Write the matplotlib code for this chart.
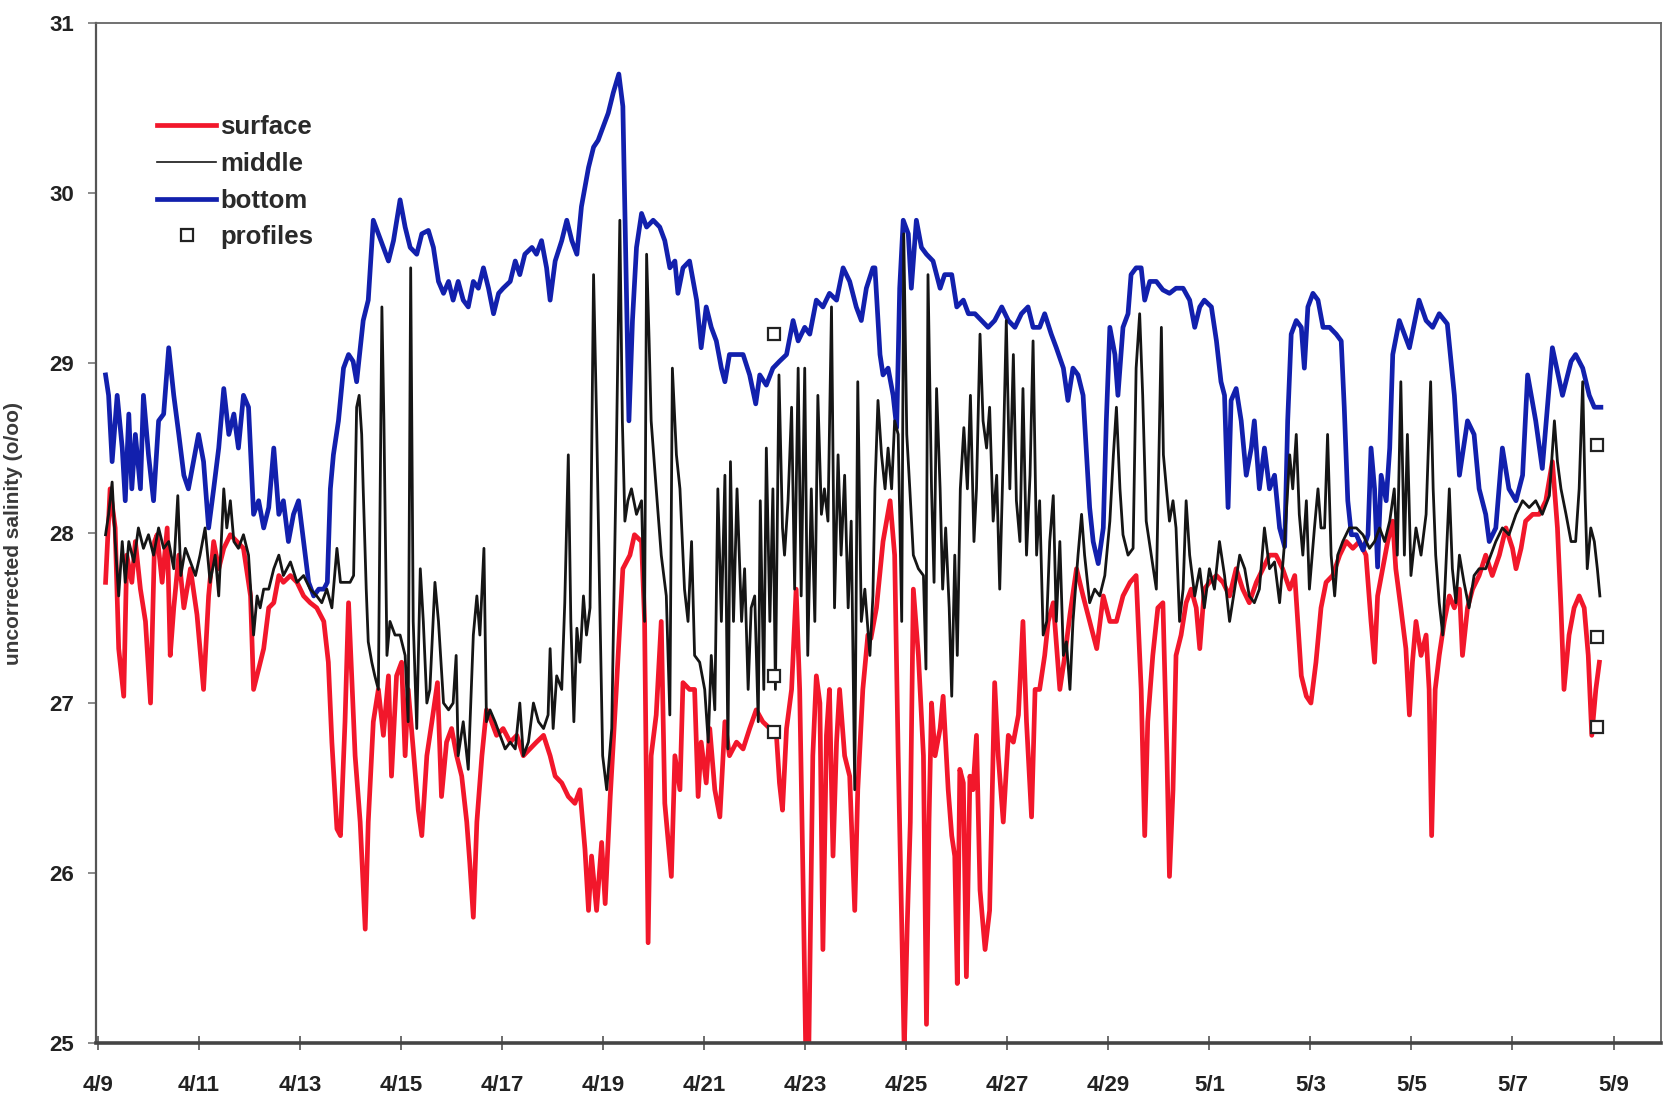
import numpy as np
import matplotlib
matplotlib.use("Agg")
import matplotlib.pyplot as plt
from matplotlib.lines import Line2D

# ---- data: (day since 4/9 00:00, salinity) ----
surface = [
    (0.15, 27.71), (0.24, 28.26), (0.34, 28.03), (0.41, 27.32), (0.51, 27.04), (0.57, 27.87),
    (0.67, 27.71), (0.74, 27.95), (0.84, 27.67), (0.94, 27.48), (1.04, 27.00), (1.12, 27.95),
    (1.17, 27.99), (1.27, 27.71), (1.37, 28.03), (1.43, 27.28), (1.50, 27.56), (1.60, 27.87),
    (1.70, 27.56), (1.83, 27.79), (1.96, 27.52), (2.09, 27.08), (2.19, 27.63), (2.29, 27.95),
    (2.39, 27.79), (2.49, 27.91), (2.62, 27.99), (2.75, 27.95), (2.88, 27.91), (3.02, 27.63),
    (3.08, 27.08), (3.18, 27.20), (3.28, 27.32), (3.38, 27.56), (3.48, 27.59), (3.58, 27.75),
    (3.67, 27.71), (3.81, 27.75), (3.94, 27.71), (4.07, 27.63), (4.20, 27.59), (4.33, 27.56),
    (4.47, 27.48), (4.56, 27.24), (4.63, 26.77), (4.73, 26.26), (4.80, 26.22), (4.89, 26.89),
    (4.96, 27.59), (5.09, 26.69), (5.19, 26.30), (5.29, 25.67), (5.35, 26.30), (5.45, 26.89),
    (5.55, 27.08), (5.65, 26.81), (5.75, 27.16), (5.81, 26.57), (5.91, 27.16), (6.01, 27.24),
    (6.08, 26.69), (6.14, 27.08), (6.24, 26.73), (6.34, 26.37), (6.41, 26.22), (6.51, 26.69),
    (6.61, 26.89), (6.72, 27.12), (6.80, 26.45), (6.90, 26.77), (7.00, 26.85), (7.10, 26.69),
    (7.20, 26.57), (7.30, 26.30), (7.36, 26.06), (7.43, 25.74), (7.50, 26.30), (7.60, 26.69),
    (7.69, 26.96), (7.79, 26.89), (7.89, 26.81), (8.02, 26.85), (8.16, 26.77), (8.29, 26.81),
    (8.42, 26.69), (8.55, 26.73), (8.68, 26.77), (8.82, 26.81), (8.95, 26.69), (9.05, 26.57),
    (9.18, 26.53), (9.31, 26.45), (9.44, 26.41), (9.54, 26.49), (9.64, 26.14), (9.71, 25.78),
    (9.77, 26.10), (9.87, 25.78), (9.97, 26.18), (10.04, 25.82), (10.14, 26.45), (10.26, 27.08),
    (10.39, 27.79), (10.53, 27.87), (10.62, 27.99), (10.76, 27.95), (10.82, 27.48), (10.89, 25.59),
    (10.95, 26.69), (11.05, 26.93), (11.15, 27.48), (11.22, 26.41), (11.35, 25.98), (11.42, 26.69),
    (11.52, 26.49), (11.58, 27.12), (11.71, 27.08), (11.81, 27.08), (11.88, 26.45), (11.94, 26.77),
    (12.04, 26.53), (12.11, 26.85), (12.21, 26.49), (12.31, 26.33), (12.41, 26.89), (12.50, 26.69),
    (12.64, 26.77), (12.77, 26.73), (12.90, 26.85), (13.03, 26.96), (13.16, 26.89), (13.30, 26.85),
    (13.43, 26.81), (13.49, 26.53), (13.55, 26.37), (13.63, 26.85), (13.73, 27.08), (13.82, 27.67),
    (13.89, 27.08), (13.96, 25.90), (14.01, 24.95), (14.07, 24.95), (14.15, 26.69), (14.22, 27.16),
    (14.29, 27.00), (14.35, 25.55), (14.42, 26.81), (14.48, 27.08), (14.55, 26.10), (14.62, 26.77),
    (14.68, 27.08), (14.78, 26.69), (14.88, 26.57), (14.98, 25.78), (15.04, 26.49), (15.14, 27.08),
    (15.24, 27.40), (15.30, 27.38), (15.41, 27.56), (15.54, 27.95), (15.68, 28.19), (15.77, 27.87),
    (15.84, 26.69), (15.91, 25.70), (15.96, 24.95), (16.02, 25.70), (16.08, 26.30), (16.14, 27.67),
    (16.24, 27.28), (16.34, 26.69), (16.40, 25.11), (16.45, 26.30), (16.50, 27.00), (16.57, 26.69),
    (16.67, 26.85), (16.73, 27.04), (16.83, 26.49), (16.90, 26.22), (16.96, 26.10), (17.01, 25.35),
    (17.06, 26.61), (17.13, 26.53), (17.19, 25.39), (17.26, 26.57), (17.32, 26.49), (17.39, 26.81),
    (17.46, 25.90), (17.56, 25.55), (17.65, 25.78), (17.75, 27.12), (17.82, 26.69), (17.92, 26.30),
    (18.02, 26.81), (18.12, 26.77), (18.22, 26.93), (18.31, 27.48), (18.38, 26.89), (18.48, 26.33),
    (18.55, 27.08), (18.64, 27.08), (18.74, 27.28), (18.81, 27.48), (18.91, 27.59), (19.04, 27.08),
    (19.14, 27.28), (19.24, 27.52), (19.37, 27.79), (19.50, 27.63), (19.63, 27.48), (19.77, 27.32),
    (19.90, 27.63), (20.03, 27.48), (20.16, 27.48), (20.29, 27.63), (20.43, 27.71), (20.55, 27.75),
    (20.65, 27.08), (20.72, 26.22), (20.78, 26.89), (20.88, 27.28), (20.98, 27.56), (21.08, 27.59),
    (21.16, 26.69), (21.21, 25.98), (21.28, 26.49), (21.34, 27.28), (21.44, 27.40), (21.54, 27.59),
    (21.64, 27.67), (21.74, 27.56), (21.81, 27.32), (21.90, 27.67), (22.00, 27.71), (22.14, 27.75),
    (22.27, 27.71), (22.40, 27.63), (22.53, 27.79), (22.66, 27.67), (22.79, 27.59), (22.93, 27.71),
    (23.06, 27.79), (23.19, 27.87), (23.32, 27.87), (23.45, 27.79), (23.59, 27.67), (23.69, 27.75),
    (23.75, 27.48), (23.82, 27.16), (23.92, 27.04), (24.01, 27.00), (24.11, 27.24), (24.21, 27.56),
    (24.31, 27.71), (24.44, 27.75), (24.58, 27.87), (24.71, 27.95), (24.84, 27.91), (24.97, 27.95),
    (25.10, 27.87), (25.20, 27.48), (25.27, 27.24), (25.33, 27.63), (25.43, 27.79), (25.53, 27.95),
    (25.63, 28.07), (25.69, 27.79), (25.79, 27.56), (25.89, 27.32), (25.96, 26.93), (26.02, 27.24),
    (26.09, 27.48), (26.19, 27.28), (26.29, 27.40), (26.35, 27.08), (26.40, 26.22), (26.47, 27.08),
    (26.55, 27.28), (26.65, 27.48), (26.75, 27.63), (26.85, 27.56), (26.95, 27.67), (27.01, 27.28),
    (27.11, 27.56), (27.21, 27.67), (27.34, 27.75), (27.47, 27.87), (27.60, 27.75), (27.74, 27.87),
    (27.87, 28.03), (28.00, 27.91), (28.07, 27.79), (28.17, 27.91), (28.26, 28.07), (28.40, 28.11),
    (28.53, 28.11), (28.66, 28.19), (28.79, 28.42), (28.89, 28.03), (28.96, 27.56), (29.02, 27.08),
    (29.12, 27.40), (29.22, 27.56), (29.32, 27.63), (29.42, 27.56), (29.50, 27.28), (29.57, 26.81),
    (29.65, 27.08), (29.72, 27.24),
]

middle = [
    (0.15, 27.99), (0.21, 28.11), (0.28, 28.30), (0.34, 27.95), (0.41, 27.63), (0.48, 27.95),
    (0.54, 27.71), (0.61, 27.95), (0.71, 27.83), (0.80, 28.03), (0.90, 27.91), (1.00, 27.99),
    (1.10, 27.87), (1.20, 28.03), (1.30, 27.91), (1.40, 27.95), (1.50, 27.79), (1.58, 28.22),
    (1.64, 27.75), (1.73, 27.91), (1.83, 27.83), (1.93, 27.75), (2.02, 27.87), (2.12, 28.03),
    (2.22, 27.71), (2.32, 27.87), (2.39, 27.63), (2.49, 28.26), (2.55, 28.03), (2.62, 28.19),
    (2.69, 27.95), (2.78, 27.91), (2.88, 27.99), (2.98, 27.87), (3.08, 27.40), (3.15, 27.63),
    (3.21, 27.56), (3.28, 27.67), (3.38, 27.67), (3.48, 27.79), (3.58, 27.87), (3.67, 27.75),
    (3.81, 27.83), (3.94, 27.71), (4.07, 27.75), (4.20, 27.67), (4.33, 27.63), (4.43, 27.59),
    (4.53, 27.67), (4.63, 27.56), (4.73, 27.91), (4.80, 27.71), (4.89, 27.71), (4.99, 27.71),
    (5.06, 27.75), (5.12, 28.74), (5.17, 28.81), (5.22, 28.58), (5.25, 28.26), (5.31, 27.67),
    (5.35, 27.36), (5.42, 27.24), (5.48, 27.16), (5.55, 27.08), (5.62, 29.33), (5.66, 28.66),
    (5.72, 27.28), (5.78, 27.48), (5.88, 27.40), (5.98, 27.40), (6.08, 27.28), (6.14, 26.89),
    (6.19, 29.56), (6.24, 27.48), (6.31, 26.85), (6.38, 27.79), (6.44, 27.48), (6.51, 27.00),
    (6.57, 27.08), (6.67, 27.71), (6.74, 27.48), (6.84, 27.00), (6.94, 26.96), (7.03, 27.00),
    (7.09, 27.28), (7.13, 26.69), (7.23, 26.89), (7.33, 26.61), (7.43, 27.40), (7.50, 27.63),
    (7.56, 27.40), (7.64, 27.91), (7.69, 26.89), (7.76, 26.96), (7.86, 26.89), (7.96, 26.81),
    (8.06, 26.73), (8.16, 26.77), (8.26, 26.73), (8.35, 27.00), (8.42, 26.69), (8.52, 26.77),
    (8.62, 27.00), (8.72, 26.89), (8.82, 26.85), (8.91, 26.93), (8.95, 27.32), (9.01, 26.85),
    (9.08, 27.16), (9.18, 27.08), (9.24, 27.59), (9.31, 28.46), (9.36, 27.48), (9.42, 26.89),
    (9.48, 27.44), (9.54, 27.24), (9.61, 27.63), (9.67, 27.40), (9.74, 27.56), (9.81, 29.52),
    (9.87, 28.66), (9.94, 27.48), (9.99, 26.69), (10.07, 26.49), (10.17, 26.85), (10.25, 28.26),
    (10.33, 29.84), (10.38, 28.66), (10.43, 28.07), (10.49, 28.19), (10.56, 28.26), (10.66, 28.11),
    (10.76, 28.19), (10.82, 27.48), (10.86, 29.64), (10.91, 29.13), (10.95, 28.66), (11.05, 28.26),
    (11.15, 27.87), (11.25, 27.63), (11.32, 26.93), (11.37, 28.97), (11.45, 28.46), (11.52, 28.26),
    (11.61, 27.67), (11.68, 27.48), (11.75, 27.95), (11.81, 27.28), (11.91, 27.24), (12.01, 27.08),
    (12.08, 26.77), (12.14, 27.28), (12.21, 26.96), (12.27, 28.26), (12.34, 27.48), (12.41, 28.34),
    (12.47, 26.73), (12.52, 28.42), (12.58, 27.48), (12.65, 28.26), (12.74, 27.48), (12.80, 27.79),
    (12.87, 27.08), (12.93, 27.56), (13.00, 27.63), (13.07, 26.89), (13.11, 28.19), (13.18, 27.08),
    (13.23, 28.50), (13.30, 27.48), (13.36, 28.26), (13.41, 27.08), (13.48, 28.93), (13.55, 28.03),
    (13.59, 27.87), (13.66, 28.19), (13.73, 28.74), (13.79, 27.67), (13.86, 28.97), (13.92, 27.63),
    (13.99, 28.97), (14.05, 27.28), (14.12, 28.26), (14.19, 27.48), (14.25, 28.81), (14.32, 28.11),
    (14.38, 28.26), (14.45, 28.07), (14.52, 29.33), (14.58, 27.56), (14.65, 28.46), (14.71, 27.87),
    (14.78, 28.34), (14.85, 27.56), (14.91, 28.07), (14.98, 26.49), (15.04, 28.89), (15.11, 27.48),
    (15.18, 27.67), (15.28, 27.28), (15.34, 27.63), (15.38, 28.26), (15.44, 28.78), (15.51, 28.46),
    (15.58, 28.26), (15.64, 28.50), (15.71, 28.26), (15.77, 28.66), (15.84, 28.58), (15.91, 27.48),
    (15.95, 29.76), (16.01, 28.58), (16.07, 28.26), (16.14, 27.87), (16.24, 27.79), (16.34, 27.75),
    (16.39, 27.20), (16.43, 29.52), (16.50, 28.26), (16.55, 27.71), (16.60, 28.85), (16.67, 28.26),
    (16.72, 27.67), (16.78, 28.03), (16.85, 27.56), (16.90, 27.04), (16.96, 27.87), (17.01, 27.28),
    (17.07, 28.26), (17.14, 28.62), (17.21, 28.26), (17.27, 28.81), (17.34, 27.95), (17.39, 28.26),
    (17.46, 29.17), (17.52, 28.66), (17.59, 28.50), (17.65, 28.74), (17.72, 28.07), (17.79, 28.34),
    (17.85, 27.67), (17.92, 28.46), (17.98, 29.25), (18.05, 28.26), (18.12, 29.05), (18.18, 28.19),
    (18.25, 27.95), (18.31, 28.85), (18.38, 27.87), (18.45, 28.34), (18.51, 29.13), (18.58, 27.87),
    (18.64, 28.19), (18.71, 27.40), (18.78, 27.48), (18.84, 27.95), (18.91, 28.22), (18.97, 27.48),
    (19.04, 27.95), (19.11, 27.28), (19.17, 27.36), (19.24, 27.08), (19.30, 27.48), (19.40, 27.87),
    (19.47, 28.11), (19.53, 27.87), (19.63, 27.59), (19.73, 27.67), (19.83, 27.63), (19.93, 27.75),
    (20.03, 28.07), (20.10, 28.46), (20.16, 28.74), (20.23, 28.26), (20.29, 27.99), (20.39, 27.87),
    (20.49, 27.91), (20.55, 28.97), (20.62, 29.29), (20.68, 28.81), (20.75, 28.07), (20.85, 27.87),
    (20.95, 27.67), (21.05, 29.21), (21.09, 28.46), (21.15, 28.26), (21.21, 28.07), (21.28, 28.19),
    (21.34, 28.03), (21.41, 27.48), (21.48, 27.67), (21.54, 28.19), (21.61, 27.87), (21.71, 27.63),
    (21.81, 27.79), (21.90, 27.56), (22.00, 27.79), (22.10, 27.67), (22.20, 27.95), (22.30, 27.75),
    (22.40, 27.48), (22.50, 27.67), (22.60, 27.87), (22.70, 27.79), (22.79, 27.63), (22.89, 27.59),
    (22.99, 27.67), (23.09, 28.03), (23.19, 27.79), (23.29, 27.83), (23.39, 27.59), (23.49, 27.95),
    (23.59, 28.46), (23.65, 28.26), (23.72, 28.58), (23.78, 28.11), (23.85, 27.87), (23.92, 28.19),
    (23.98, 27.67), (24.08, 28.03), (24.15, 28.26), (24.21, 28.03), (24.28, 28.03), (24.34, 28.58),
    (24.41, 27.87), (24.48, 27.63), (24.54, 27.87), (24.64, 27.95), (24.77, 28.03), (24.91, 28.03),
    (25.04, 27.99), (25.17, 27.91), (25.27, 27.95), (25.37, 28.03), (25.47, 27.95), (25.57, 28.07),
    (25.66, 28.26), (25.72, 27.87), (25.79, 28.89), (25.86, 27.87), (25.92, 28.58), (25.99, 27.75),
    (26.09, 28.03), (26.19, 27.87), (26.29, 28.11), (26.38, 28.89), (26.43, 28.26), (26.48, 27.87),
    (26.55, 27.59), (26.62, 27.40), (26.68, 27.79), (26.75, 28.26), (26.81, 27.79), (26.88, 27.59),
    (26.95, 27.87), (27.04, 27.71), (27.14, 27.56), (27.24, 27.75), (27.34, 27.79), (27.47, 27.79),
    (27.57, 27.87), (27.67, 27.95), (27.80, 28.03), (27.93, 27.99), (28.07, 28.11), (28.20, 28.19),
    (28.33, 28.15), (28.46, 28.19), (28.59, 28.11), (28.73, 28.22), (28.83, 28.66), (28.89, 28.42),
    (28.96, 28.26), (29.06, 28.11), (29.16, 27.95), (29.25, 27.95), (29.32, 28.26), (29.39, 28.89),
    (29.44, 28.19), (29.48, 27.79), (29.55, 28.03), (29.62, 27.95), (29.68, 27.79), (29.73, 27.63),
]

bottom = [
    (0.15, 28.93), (0.21, 28.81), (0.28, 28.42), (0.38, 28.81), (0.48, 28.50), (0.54, 28.19),
    (0.61, 28.70), (0.67, 28.26), (0.74, 28.58), (0.84, 28.26), (0.90, 28.81), (1.00, 28.46),
    (1.10, 28.19), (1.20, 28.66), (1.30, 28.70), (1.40, 29.09), (1.50, 28.81), (1.60, 28.58),
    (1.70, 28.34), (1.79, 28.26), (1.89, 28.42), (1.99, 28.58), (2.09, 28.42), (2.19, 28.03),
    (2.29, 28.26), (2.39, 28.50), (2.49, 28.85), (2.59, 28.58), (2.69, 28.70), (2.78, 28.50),
    (2.88, 28.81), (2.98, 28.74), (3.08, 28.11), (3.18, 28.19), (3.28, 28.03), (3.38, 28.15),
    (3.48, 28.50), (3.58, 28.11), (3.67, 28.19), (3.77, 27.95), (3.87, 28.11), (3.97, 28.19),
    (4.07, 27.95), (4.17, 27.71), (4.27, 27.63), (4.37, 27.67), (4.47, 27.67), (4.54, 27.71),
    (4.60, 28.26), (4.66, 28.46), (4.76, 28.66), (4.86, 28.97), (4.96, 29.05), (5.05, 29.01),
    (5.12, 28.89), (5.25, 29.25), (5.35, 29.37), (5.45, 29.84), (5.55, 29.76), (5.65, 29.68),
    (5.75, 29.60), (5.85, 29.72), (5.98, 29.96), (6.08, 29.80), (6.18, 29.68), (6.31, 29.64),
    (6.41, 29.76), (6.54, 29.78), (6.64, 29.68), (6.74, 29.48), (6.84, 29.41), (6.94, 29.48),
    (7.03, 29.37), (7.13, 29.48), (7.23, 29.37), (7.33, 29.33), (7.43, 29.48), (7.53, 29.44),
    (7.63, 29.56), (7.73, 29.44), (7.83, 29.29), (7.93, 29.41), (8.02, 29.44), (8.16, 29.48),
    (8.26, 29.60), (8.35, 29.52), (8.45, 29.64), (8.59, 29.68), (8.68, 29.64), (8.78, 29.72),
    (8.88, 29.56), (8.95, 29.37), (9.05, 29.60), (9.18, 29.72), (9.28, 29.84), (9.38, 29.72),
    (9.48, 29.64), (9.57, 29.92), (9.71, 30.15), (9.81, 30.27), (9.90, 30.31), (10.00, 30.39),
    (10.10, 30.47), (10.20, 30.59), (10.31, 30.70), (10.39, 30.51), (10.46, 29.44), (10.51, 28.66),
    (10.58, 29.25), (10.66, 29.68), (10.76, 29.88), (10.86, 29.80), (10.99, 29.84), (11.12, 29.80),
    (11.22, 29.72), (11.32, 29.56), (11.42, 29.60), (11.48, 29.41), (11.58, 29.56), (11.71, 29.60),
    (11.85, 29.37), (11.94, 29.09), (12.04, 29.33), (12.14, 29.21), (12.24, 29.13), (12.34, 28.97),
    (12.41, 28.89), (12.50, 29.05), (12.64, 29.05), (12.77, 29.05), (12.90, 28.93), (13.02, 28.76),
    (13.10, 28.93), (13.23, 28.87), (13.36, 28.97), (13.49, 29.01), (13.63, 29.05), (13.76, 29.25),
    (13.86, 29.13), (13.99, 29.21), (14.09, 29.17), (14.22, 29.37), (14.35, 29.33), (14.48, 29.41),
    (14.62, 29.37), (14.75, 29.56), (14.88, 29.48), (15.01, 29.33), (15.11, 29.25), (15.21, 29.44),
    (15.34, 29.56), (15.38, 29.56), (15.48, 29.05), (15.54, 28.93), (15.64, 28.97), (15.74, 28.81),
    (15.81, 28.62), (15.87, 29.44), (15.94, 29.84), (16.04, 29.76), (16.10, 29.44), (16.20, 29.84),
    (16.30, 29.68), (16.40, 29.64), (16.53, 29.60), (16.67, 29.44), (16.76, 29.52), (16.90, 29.52),
    (17.00, 29.33), (17.13, 29.37), (17.23, 29.29), (17.36, 29.29), (17.49, 29.25), (17.62, 29.21),
    (17.75, 29.25), (17.89, 29.33), (18.02, 29.25), (18.15, 29.21), (18.28, 29.29), (18.41, 29.33),
    (18.51, 29.21), (18.64, 29.21), (18.74, 29.29), (18.87, 29.17), (18.97, 29.09), (19.11, 28.97),
    (19.20, 28.78), (19.30, 28.97), (19.40, 28.93), (19.50, 28.81), (19.57, 28.46), (19.63, 28.15),
    (19.70, 27.95), (19.80, 27.82), (19.90, 28.03), (19.96, 28.66), (20.03, 29.21), (20.13, 29.05),
    (20.19, 28.81), (20.29, 29.21), (20.39, 29.29), (20.45, 29.52), (20.55, 29.56), (20.65, 29.56),
    (20.72, 29.37), (20.82, 29.48), (20.95, 29.48), (21.08, 29.43), (21.21, 29.41), (21.34, 29.44),
    (21.48, 29.44), (21.61, 29.37), (21.71, 29.21), (21.81, 29.33), (21.90, 29.37), (22.04, 29.33),
    (22.14, 29.13), (22.23, 28.89), (22.30, 28.81), (22.37, 28.15), (22.43, 28.78), (22.53, 28.85),
    (22.63, 28.66), (22.73, 28.34), (22.83, 28.50), (22.89, 28.66), (22.99, 28.26), (23.09, 28.50),
    (23.19, 28.26), (23.29, 28.34), (23.39, 28.03), (23.49, 27.92), (23.55, 28.66), (23.62, 29.17),
    (23.72, 29.25), (23.82, 29.21), (23.88, 28.97), (23.95, 29.33), (24.05, 29.41), (24.15, 29.37),
    (24.25, 29.21), (24.38, 29.21), (24.51, 29.17), (24.61, 29.13), (24.67, 28.74), (24.74, 28.19),
    (24.81, 27.99), (24.91, 27.99), (25.04, 27.90), (25.14, 27.99), (25.20, 28.50), (25.27, 28.26),
    (25.33, 27.80), (25.40, 28.34), (25.50, 28.19), (25.57, 28.50), (25.63, 29.05), (25.76, 29.25),
    (25.96, 29.09), (26.15, 29.37), (26.29, 29.25), (26.42, 29.21), (26.55, 29.29), (26.71, 29.23),
    (26.85, 28.81), (26.95, 28.34), (27.11, 28.66), (27.24, 28.58), (27.34, 28.26), (27.47, 28.11),
    (27.54, 27.95), (27.67, 28.03), (27.80, 28.50), (27.93, 28.26), (28.07, 28.19), (28.20, 28.34),
    (28.30, 28.93), (28.46, 28.66), (28.59, 28.38), (28.79, 29.09), (28.99, 28.81), (29.16, 29.01),
    (29.25, 29.05), (29.39, 28.97), (29.52, 28.81), (29.62, 28.74), (29.75, 28.74),
]

profile_days = [13.38, 13.38, 13.38, 29.67, 29.67, 29.67]
profile_sal = [29.17, 27.16, 26.83, 28.52, 27.39, 26.86]

tick_days = [0, 2, 4, 6, 8, 10, 12, 14, 16, 18, 20, 22, 24, 26, 28, 30]
tick_labels = ["4/9", "4/11", "4/13", "4/15", "4/17", "4/19", "4/21", "4/23",
               "4/25", "4/27", "4/29", "5/1", "5/3", "5/5", "5/7", "5/9"]
y_ticks = [25, 26, 27, 28, 29, 30, 31]

# ---- styles ----
RED = "#f2172b"
BLUE = "#1220ad"
BLACK = "#151515"
FONT = ["Liberation Sans", "DejaVu Sans"]

plt.rcParams["font.family"] = FONT

fig = plt.figure(figsize=(16.66, 11.02), dpi=100)
ax = fig.add_axes([0.0576, 0.0535, 0.9394, 0.9256])

sd, sv = zip(*surface)
md, mv = zip(*middle)
bd, bv = zip(*bottom)

l_s, = ax.plot(sd, sv, color=RED, lw=3.4, solid_joinstyle="round", zorder=2)
l_b, = ax.plot(bd, bv, color=BLUE, lw=3.4, solid_joinstyle="round", zorder=3)
l_m, = ax.plot(md, mv, color=BLACK, lw=2.0, solid_joinstyle="round", zorder=4)
l_p, = ax.plot(profile_days, profile_sal, linestyle="none", marker="s", ms=8,
               mfc="white", mec="#222222", mew=1.6, zorder=6)

ax.set_xlim(-0.04, 30.94)
ax.set_ylim(25, 31)
ax.set_xticks(tick_days)
ax.set_xticklabels(tick_labels)
ax.set_yticks(y_ticks)
ax.set_yticklabels([str(v) for v in y_ticks])

for lab in ax.get_xticklabels() + ax.get_yticklabels():
    lab.set_fontweight("bold")
    lab.set_fontsize(16)
    lab.set_color("#222222")

ax.tick_params(axis="x", direction="inout", length=10, width=1.2, color="#555555", pad=18)
ax.tick_params(axis="y", direction="out", length=6, width=1.2, color="#777777", pad=10)

ax.set_ylabel("uncorrected salinity (o/oo)", fontsize=15, fontweight="bold", color="#3a3a3a")
ax.yaxis.set_label_coords(-0.0466, 0.5)

ax.spines["bottom"].set_linewidth(2.6)
ax.spines["bottom"].set_color("#444444")
ax.spines["left"].set_linewidth(1.6)
ax.spines["left"].set_color("#555555")
for s in ("top", "right"):
    ax.spines[s].set_linewidth(1.3)
    ax.spines[s].set_color("#666666")

leg = ax.legend([l_s, l_m, l_b, l_p], ["surface", "middle", "bottom", "profiles"],
                loc="upper left", bbox_to_anchor=(0.039, 0.910), frameon=False,
                borderaxespad=0, borderpad=0, handlelength=2.3, handletextpad=0.15,
                labelspacing=0.5, prop={"family": FONT, "weight": "bold", "size": 18.5})
for t in leg.get_texts():
    t.set_color("#2a2a2a")
leg.get_lines()[1].set_linewidth(1.2)

fig.savefig("out.png", dpi=100, facecolor="white")
